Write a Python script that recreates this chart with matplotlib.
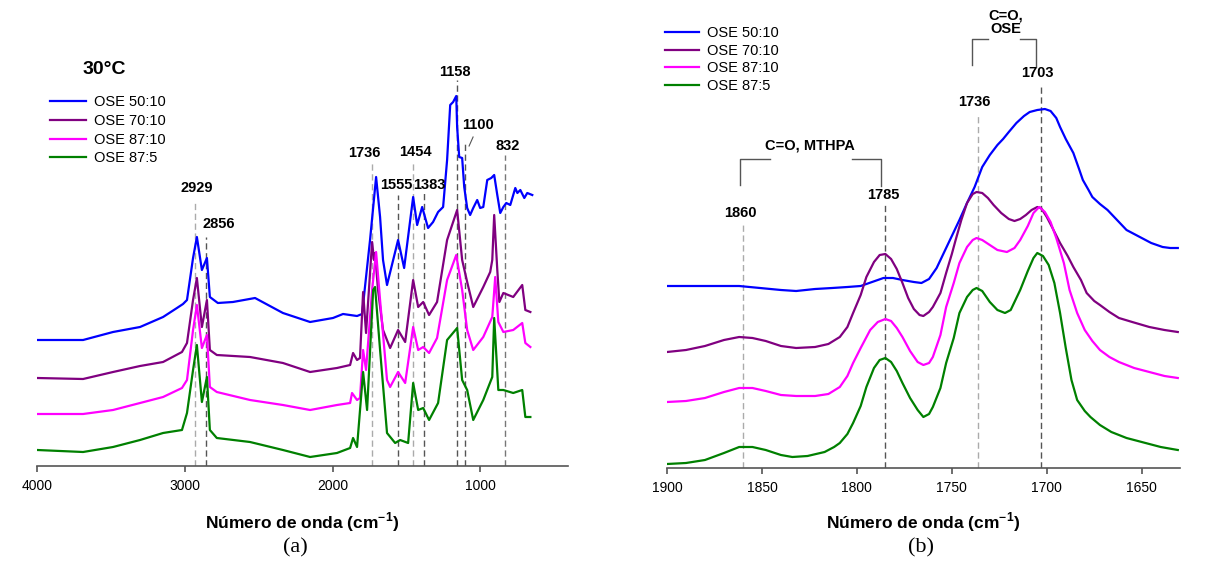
import matplotlib
matplotlib.use('Agg')
import matplotlib.pyplot as plt

plt.rcParams['font.family'] = ['Liberation Sans', 'DejaVu Sans']
plt.rcParams['mathtext.fontset'] = 'custom'
plt.rcParams['mathtext.rm'] = 'Liberation Sans'
plt.rcParams['mathtext.bf'] = 'Liberation Sans:bold'

series_names = ['OSE 50:10', 'OSE 70:10', 'OSE 87:10', 'OSE 87:5']
series_colors = ['#0000FF', '#800080', '#FF00FF', '#008000']

# ---------------- panel (a): full spectra, 30 °C (arbitrary units, offset) -------------
a_wn_50_10 = [4000, 3690, 3487, 3304, 3148, 3054, 3013, 2986, 2945, 2919, 2885, 2851, 2831, 2777,
              2675, 2525, 2336, 2152, 1997, 1929, 1834, 1800, 1746, 1705, 1678, 1658, 1631, 1556,
              1515, 1454, 1427, 1393, 1353, 1319, 1285, 1251, 1224, 1203, 1183, 1162, 1156, 1142,
              1122, 1108, 1088, 1068, 1047, 1020, 1000, 979, 952, 925, 905, 884, 864, 843,
              823, 796, 762, 748, 728, 701, 681, 647]
a_int_50_10 = [126, 126, 134, 139, 149, 158, 162, 166, 208, 229, 196, 208, 169, 163,
               164, 168, 153, 144, 148, 152, 150, 152, 226, 289, 249, 206, 181, 226,
               198, 269, 241, 259, 238, 244, 254, 259, 306, 361, 364, 370, 339, 309,
               308, 279, 258, 251, 258, 266, 258, 259, 286, 288, 291, 271, 253, 259,
               263, 261, 278, 273, 276, 268, 273, 271]

a_wn_70_10 = [4000, 3690, 3487, 3304, 3148, 3020, 2986, 2945, 2919, 2885, 2851, 2831, 2784, 2559,
              2336, 2152, 1970, 1881, 1861, 1834, 1814, 1793, 1773, 1732, 1719, 1712, 1692, 1658,
              1610, 1556, 1508, 1454, 1420, 1386, 1346, 1292, 1224, 1190, 1156, 1122, 1088, 1047,
              979, 932, 918, 905, 884, 870, 843, 776, 715, 694, 660]
a_int_70_10 = [88, 87, 94, 100, 104, 114, 123, 166, 188, 139, 166, 116, 111, 109,
               103, 94, 98, 101, 113, 106, 108, 174, 133, 224, 206, 213, 176, 136,
               118, 136, 124, 186, 159, 164, 151, 164, 226, 241, 256, 206, 184, 159,
               179, 194, 206, 251, 196, 164, 173, 169, 181, 156, 154]

a_wn_87_10 = [4000, 3690, 3487, 3304, 3148, 3020, 2986, 2945, 2919, 2885, 2851, 2831, 2784, 2559,
              2336, 2152, 1970, 1881, 1868, 1834, 1814, 1793, 1773, 1732, 1705, 1678, 1631, 1610,
              1556, 1508, 1454, 1420, 1386, 1346, 1292, 1224, 1162, 1122, 1088, 1047, 979, 918,
              898, 877, 843, 776, 715, 694, 660]
a_int_87_10 = [52, 52, 56, 63, 69, 78, 86, 136, 161, 118, 131, 79, 74, 66,
               61, 56, 61, 63, 73, 66, 68, 116, 96, 176, 214, 166, 86, 79,
               94, 83, 139, 116, 119, 113, 128, 186, 211, 176, 136, 116, 129, 149,
               189, 144, 134, 136, 143, 123, 119]

a_wn_87_5 = [4000, 3690, 3487, 3304, 3148, 3020, 2986, 2945, 2919, 2885, 2851, 2831, 2784, 2559,
             2336, 2152, 1970, 1881, 1861, 1834, 1793, 1766, 1725, 1712, 1678, 1631, 1576, 1542,
             1488, 1454, 1420, 1386, 1346, 1285, 1224, 1156, 1122, 1088, 1047, 979, 918, 905,
             877, 843, 776, 715, 694, 660]
a_int_87_5 = [16, 14, 19, 26, 33, 36, 53, 96, 121, 64, 89, 36, 28, 24,
              16, 9, 13, 18, 28, 19, 94, 56, 176, 179, 116, 33, 23, 26,
              23, 83, 56, 58, 46, 63, 126, 138, 86, 76, 46, 66, 89, 148,
              76, 76, 73, 76, 49, 49]

a_peaks = [2929, 2856, 1736, 1555, 1454, 1383, 1158, 1100, 832]
a_peak_labels = ['2929', '2856', '1736', '1555', '1454', '1383', '1158', '1100', '832']
a_xticks = [4000, 3000, 2000, 1000]

# ---------------- panel (b): carbonyl region ---------------------------------------------
b_wn_50_10 = [1900, 1880, 1862, 1851, 1840, 1832, 1822, 1813, 1805, 1798, 1792, 1786, 1781, 1776,
              1770, 1766, 1762, 1758, 1755, 1751, 1746, 1742, 1738, 1734, 1730, 1726, 1723, 1720,
              1716, 1712, 1709, 1705, 1701, 1698, 1695, 1693, 1690, 1686, 1683, 1681, 1678, 1676,
              1672, 1668, 1663, 1658, 1654, 1650, 1645, 1639, 1635, 1631]
b_int_50_10 = [182, 182, 182, 180, 178, 177, 179, 180, 181, 182, 186, 190, 190, 188,
               186, 185, 189, 200, 212, 228, 248, 265, 281, 301, 313, 323, 329, 336,
               345, 352, 356, 358, 359, 357, 350, 341, 329, 315, 299, 288, 278, 271,
               264, 258, 248, 238, 234, 230, 225, 221, 220, 220]

b_wn_70_10 = [1900, 1890, 1880, 1870, 1862, 1855, 1848, 1840, 1832, 1822, 1815, 1809, 1805, 1802,
              1798, 1795, 1791, 1788, 1785, 1782, 1779, 1776, 1773, 1770, 1767, 1765, 1762, 1760,
              1756, 1753, 1750, 1748, 1745, 1742, 1739, 1737, 1734, 1731, 1728, 1724, 1720, 1717,
              1714, 1711, 1708, 1705, 1703, 1700, 1697, 1693, 1689, 1686, 1682, 1679, 1675, 1672,
              1667, 1662, 1655, 1646, 1638, 1631]
b_int_70_10 = [116, 118, 122, 128, 131, 130, 127, 122, 120, 121, 124, 131, 141, 155,
               173, 191, 206, 213, 214, 209, 199, 185, 170, 159, 153, 152, 156, 161,
               175, 195, 214, 228, 248, 265, 274, 276, 275, 270, 263, 255, 249, 247,
               249, 253, 258, 261, 260, 251, 240, 225, 212, 201, 188, 175, 167, 163,
               156, 150, 146, 141, 138, 136]

b_wn_87_10 = [1900, 1890, 1880, 1870, 1862, 1855, 1848, 1840, 1832, 1822, 1815, 1809, 1805, 1802,
              1798, 1793, 1789, 1785, 1782, 1779, 1776, 1772, 1768, 1765, 1762, 1760, 1756, 1753,
              1749, 1746, 1742, 1739, 1737, 1734, 1730, 1726, 1721, 1717, 1714, 1710, 1707, 1704,
              1701, 1698, 1695, 1691, 1688, 1684, 1680, 1676, 1672, 1667, 1662, 1654, 1646, 1638,
              1631]
b_int_87_10 = [66, 67, 70, 76, 80, 80, 77, 73, 72, 72, 74, 81, 92, 105,
               120, 138, 146, 149, 147, 140, 131, 117, 106, 103, 105, 111, 133, 161,
               185, 205, 221, 228, 230, 228, 223, 218, 216, 220, 228, 242, 255, 261,
               256, 246, 230, 205, 178, 155, 138, 127, 118, 111, 106, 100, 96, 92,
               90]

b_wn_87_5 = [1900, 1890, 1880, 1870, 1862, 1855, 1848, 1840, 1834, 1826, 1817, 1812, 1809, 1805,
             1802, 1798, 1795, 1791, 1788, 1785, 1782, 1779, 1776, 1772, 1768, 1765, 1762, 1760,
             1756, 1753, 1749, 1746, 1742, 1739, 1737, 1734, 1730, 1726, 1722, 1719, 1714, 1710,
             1707, 1705, 1702, 1699, 1696, 1693, 1690, 1687, 1684, 1680, 1677, 1672, 1666, 1658,
             1650, 1640, 1631]
b_int_87_5 = [4, 5, 8, 15, 21, 21, 18, 13, 11, 12, 16, 21, 25, 34,
              45, 62, 81, 100, 108, 110, 106, 97, 85, 70, 58, 51, 54, 61,
              80, 105, 130, 155, 171, 178, 180, 177, 166, 158, 155, 158, 178, 197,
              210, 215, 212, 203, 185, 155, 120, 88, 68, 57, 51, 43, 36, 30,
              26, 21, 18]

b_peaks = [1860, 1785, 1736, 1703]
b_peak_labels = ['1860', '1785', '1736', '1703']
b_xticks = [1900, 1850, 1800, 1750, 1700, 1650]

# ---------------- figure ---------------------------------------------------------------
W, H = 1218, 570
fig = plt.figure(figsize=(W / 100, H / 100), dpi=100)
fig.patch.set_facecolor('white')


def px_axes(x0, y_bottom, x1, y_top):
    return fig.add_axes([x0 / W, 1 - y_bottom / H, (x1 - x0) / W, (y_bottom - y_top) / H])


axA = px_axes(37.3, 466, 568, 40)
axB = px_axes(667, 468, 1179.7, 40)

LIGHT = '#ABABAB'
DARK = '#555555'
DASH = (0, (4.5, 2.6))
AXCOL = '#555555'

for ax in (axA, axB):
    for s in ('left', 'right', 'top'):
        ax.spines[s].set_visible(False)
    ax.spines['bottom'].set_color(AXCOL)
    ax.spines['bottom'].set_linewidth(1.2)
    ax.set_yticks([])
    ax.tick_params(axis='x', direction='out', length=4, width=1.2, color=AXCOL,
                   labelsize=10, pad=5.5, labelcolor='black')
    ax.set_facecolor('none')

# panel (a) curves
a_wn = [a_wn_50_10, a_wn_70_10, a_wn_87_10, a_wn_87_5]
a_int = [a_int_50_10, a_int_70_10, a_int_87_10, a_int_87_5]
for wn, it, name, col in zip(a_wn, a_int, series_names, series_colors):
    axA.plot(wn, it, color=col, lw=1.6, label=name, zorder=3, solid_joinstyle='round')
axA.set_xlim(4000, 405)
axA.set_ylim(0, 426)
axA.set_xticks(a_xticks)
axA.set_xticklabels([str(t) for t in a_xticks])

a_line_top = [263, 229, 304, 271, 304, 274, 386, 324, 311]
a_line_col = [LIGHT, DARK, LIGHT, DARK, LIGHT, DARK, DARK, DARK, '#777777']
for pk, top, c in zip(a_peaks, a_line_top, a_line_col):
    axA.vlines(pk, 0, top, colors=c, linestyles=DASH, lw=1.0, zorder=2)

a_label_pos = [(2919, 278), (2769, 242), (1785, 313), (1570, 281), (1440, 314),
               (1346, 281), (1169, 394), (1013, 341), (811, 320)]
for (lx, ly), txt in zip(a_label_pos, a_peak_labels):
    axA.text(lx, ly, txt, ha='center', va='center', fontsize=10.5, fontweight='bold')
axA.plot([1048, 1075], [329, 320], color=DARK, lw=0.8)

axA.text(104.5 / W, 1 - 69 / H, '30°C', transform=fig.transFigure, ha='center', va='center',
         fontsize=14, fontweight='bold')

legA = axA.legend(loc='upper left', bbox_to_anchor=(50 / W, 1 - 95 / H),
                  bbox_transform=fig.transFigure, frameon=False, fontsize=10.5,
                  handlelength=2.45, handletextpad=0.55, labelspacing=0.33,
                  borderpad=0, borderaxespad=0)

# panel (b) curves
b_wn = [b_wn_50_10, b_wn_70_10, b_wn_87_10, b_wn_87_5]
b_int = [b_int_50_10, b_int_70_10, b_int_87_10, b_int_87_5]
for wn, it, name, col in zip(b_wn, b_int, series_names, series_colors):
    axB.plot(wn, it, color=col, lw=1.6, label=name, zorder=3, solid_joinstyle='round')
axB.set_xlim(1900, 1630)
axB.set_ylim(0, 428)
axB.set_xticks(b_xticks)
axB.set_xticklabels([str(t) for t in b_xticks])

b_line_top = [245, 263, 355, 383]
b_line_col = [LIGHT, DARK, LIGHT, DARK]
for pk, top, c in zip(b_peaks, b_line_top, b_line_col):
    axB.vlines(pk, 0, top, colors=c, linestyles=DASH, lw=1.0, zorder=2)

b_label_pos = [(1861.6, 255), (1786.3, 273), (1737.9, 366), (1704.7, 395)]
for (lx, ly), txt in zip(b_label_pos, b_peak_labels):
    axB.text(lx, ly, txt, ha='center', va='center', fontsize=10.5, fontweight='bold')

# brackets
BR = '#555555'
axB.plot([1861.6, 1861.6, 1845.8], [283, 309, 309], color=BR, lw=1.0, clip_on=False)
axB.plot([1802.6, 1787.4, 1787.4], [309, 309, 282], color=BR, lw=1.0, clip_on=False)
axB.text(1824.7, 323, 'C=O, MTHPA', ha='center', va='center', fontsize=10.5, fontweight='bold')
axB.plot([1739.5, 1739.5, 1731], [403, 429, 429], color=BR, lw=1.0, clip_on=False)
axB.plot([1714.2, 1705.8, 1705.8], [429, 429, 401], color=BR, lw=1.0, clip_on=False)
axB.text(1721.6, 446, 'C=O,\nOSE', ha='center', va='center', fontsize=10.5, fontweight='bold',
         linespacing=0.95)

legB = axB.legend(loc='upper left', bbox_to_anchor=(665 / W, 1 - 26 / H),
                  bbox_transform=fig.transFigure, frameon=False, fontsize=10.5,
                  handlelength=2.3, handletextpad=0.55, labelspacing=0.25,
                  borderpad=0, borderaxespad=0)

# axis titles and panel letters
xlabel = r'Número de onda (cm$^{\mathbf{-1}}$)'
fig.text(302.5 / W, 1 - 522 / H, xlabel, ha='center', va='center', fontsize=12.5, fontweight='bold')
fig.text(923.5 / W, 1 - 522 / H, xlabel, ha='center', va='center', fontsize=12.5, fontweight='bold')
fig.text(295 / W, 1 - 548 / H, '(a)', ha='center', va='center', fontsize=16,
         family=['Liberation Serif', 'DejaVu Serif'])
fig.text(921 / W, 1 - 548 / H, '(b)', ha='center', va='center', fontsize=16,
         family=['Liberation Serif', 'DejaVu Serif'])

fig.savefig('out.png', dpi=100, facecolor='white')
